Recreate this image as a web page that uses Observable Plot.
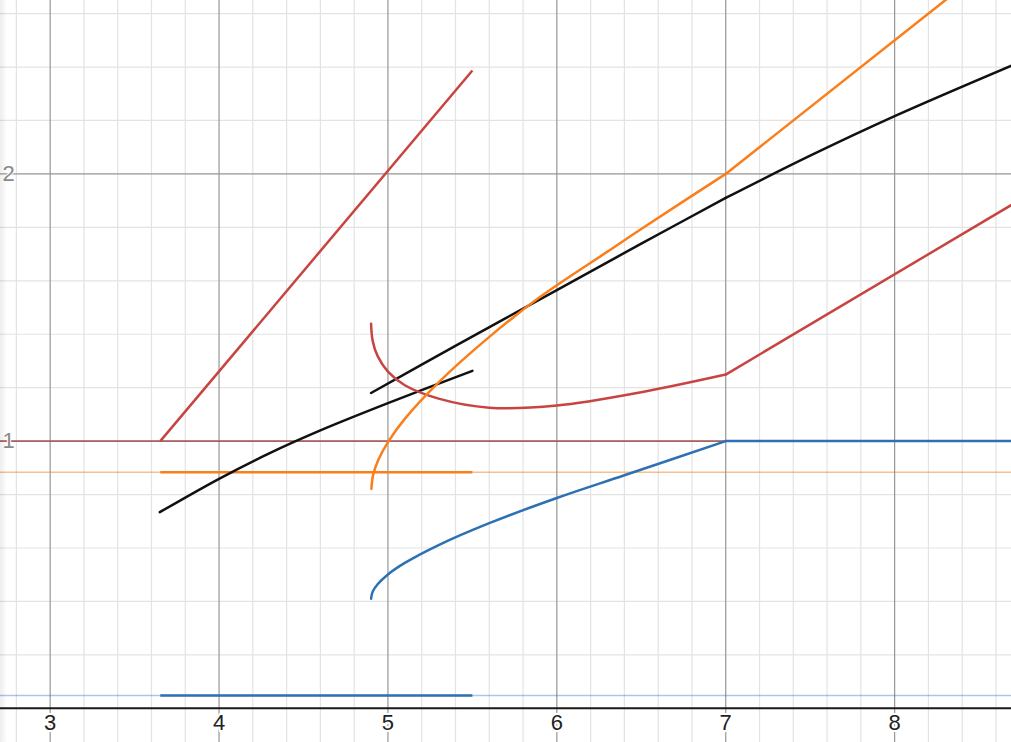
<!DOCTYPE html>
<html>
<head>
<meta charset="utf-8">
<script src="https://cdn.jsdelivr.net/npm/d3@7"></script>
<script src="https://cdn.jsdelivr.net/npm/@observablehq/plot@0.6"></script>
<style>
  html, body { margin: 0; padding: 0; background: #fff; }
  #wrap { position: relative; width: 1011px; height: 742px; overflow: hidden; }
  #shade { position: absolute; left: 0; top: 0; width: 7px; height: 742px;
           background: linear-gradient(to right, rgba(0,0,0,0.07), rgba(0,0,0,0)); pointer-events: none; }
</style>
</head>
<body>
<div id="wrap"><div id="shade"></div></div>
<script>
// ---- data ----
const xTickLabels = [3, 4, 5, 6, 7, 8];
const yTickLabels = [1, 2];
const majorX = [3, 4, 5, 6, 7, 8];
const majorY = [1, 2];

// straight red line
const redLine = [[3.652, 1.0], [5.5, 2.387]];
// short thick horizontal segments
const orangeSeg = [[3.652, 0.883], [5.5, 0.883]];
const blueSeg = [[3.652, 0.0475], [5.5, 0.0475]];
// thin full-width reference levels
const refRed = 1.0;
const refOrange = 0.883;
const refBlue = 0.0475;

// first black curve
const blackA = [[3.649, 0.734], [4.0, 0.859], [4.3, 0.955], [4.6, 1.040], [5.0, 1.142], [5.5, 1.263]];
// second black curve (before and after x = 7)
const blackB = [[4.9, 1.180], [5.41, 1.360], [6.0, 1.565], [6.5, 1.739], [7.0, 1.910]];
const blackBTail = [[7.0, 1.910], [7.5, 2.068], [8.0, 2.216], [8.692, 2.405]];
// orange curve (curved part then straight part)
const orangeCurve = [[4.902, 0.821], [4.912, 0.872], [4.942, 0.928], [5.002, 0.998], [5.102, 1.085], [5.302, 1.221], [5.602, 1.391], [5.902, 1.540], [6.302, 1.710], [6.502, 1.795], [7.0, 2.0]];
const orangeTail = [[7.0, 2.0], [8.692, 2.846]];
// red curve
const redCurve = [[4.9, 1.439], [4.91, 1.374], [4.94, 1.317], [5.0, 1.260], [5.1, 1.209], [5.3, 1.159], [5.6, 1.125], [6.0, 1.133], [6.5, 1.183], [7.0, 1.249]];
const redTail = [[7.0, 1.249], [8.692, 1.884]];
// blue curve
const blueCurve = [[4.9, 0.410], [4.91, 0.437], [4.94, 0.465], [5.0, 0.501], [5.1, 0.544], [5.3, 0.611], [5.6, 0.693], [6.0, 0.787], [6.4, 0.872], [7.0, 1.0]];
const blueTail = [[7.0, 1.0], [8.692, 1.0]];

// ---- styling ----
const RED = "#c74440", ORANGE = "#fa7e19", BLUE = "#2d70b3", BLACK = "#111111";
const xDomain = [2.706, 8.692];
const yDomain = [-0.128, 2.649];

const minorX = d3.range(28, 88, 2).map(d => d / 10).filter(v => !majorX.includes(v));
const minorY = d3.range(0, 28, 2).map(d => d / 10).filter(v => v !== 0 && !majorY.includes(v));

const P = {x: d => d[0], y: d => d[1]};
const curveLine = (data, stroke) => Plot.line(data, {...P, stroke, strokeWidth: 2.5, curve: "catmull-rom", clip: true, strokeLinecap: "round"});
const straight = (data, stroke) => Plot.line(data, {...P, stroke, strokeWidth: 2.5, clip: true, strokeLinecap: "butt"});

const chart = Plot.plot({
  width: 1011,
  height: 742,
  margin: 0,
  x: {domain: xDomain, axis: null},
  y: {domain: yDomain, axis: null},
  style: {fontFamily: "'Liberation Sans', Arial, sans-serif", background: "#fff"},
  marks: [
    Plot.ruleX(minorX, {stroke: "#e3e3e3", strokeWidth: 1.2}),
    Plot.ruleY(minorY, {stroke: "#e3e3e3", strokeWidth: 1.2}),
    Plot.ruleX(majorX, {stroke: "#969696", strokeWidth: 1.2}),
    Plot.ruleY(majorY, {stroke: "#969696", strokeWidth: 1.2}),
    Plot.ruleY([refRed], {stroke: "#a8504c", strokeOpacity: 0.8, strokeWidth: 1.6}),
    Plot.ruleY([refOrange], {stroke: ORANGE, strokeOpacity: 0.5, strokeWidth: 1.5}),
    Plot.ruleY([refBlue], {stroke: BLUE, strokeOpacity: 0.4, strokeWidth: 1.5}),
    Plot.ruleY([0], {stroke: "#1a1a1a", strokeWidth: 2}),
    straight(orangeSeg, ORANGE),
    straight(blueSeg, BLUE),
    straight(redLine, RED),
    curveLine(blackA, BLACK),
    curveLine(blackB, BLACK),
    curveLine(blackBTail, BLACK),
    curveLine(blueCurve, BLUE),
    straight(blueTail, BLUE),
    curveLine(redCurve, RED),
    straight(redTail, RED),
    curveLine(orangeCurve, ORANGE),
    straight(orangeTail, ORANGE),
    Plot.text(xTickLabels, {x: d => d, y: () => 0, dy: 15, text: d => String(d), fontSize: 22, fill: "#222", stroke: "white", strokeWidth: 4, lineAnchor: "middle"}),
    Plot.text(yTickLabels, {x: () => xDomain[0], y: d => d, dx: 2, text: d => String(d), fontSize: 22, fill: "#8a8a8a", stroke: "white", strokeWidth: 2, textAnchor: "start", lineAnchor: "middle"})
  ]
});
document.getElementById("wrap").prepend(chart);
</script>
</body>
</html>
